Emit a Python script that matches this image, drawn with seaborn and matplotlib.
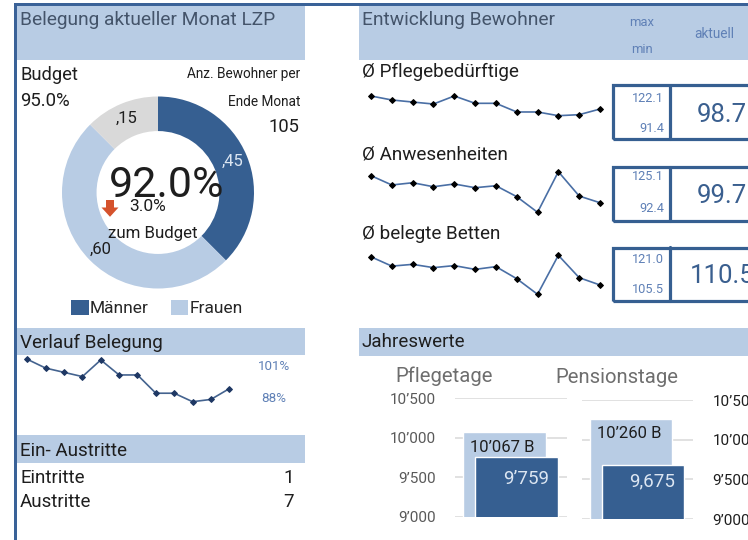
import matplotlib
matplotlib.use("Agg")
import matplotlib.pyplot as plt
from matplotlib.patches import Rectangle, Polygon
import seaborn as sns
import pandas as pd

# --- Daten ---
monate = list(range(1, 13))
belegung = [101, 98.3, 97, 95.7, 100.8, 96.2, 96.2, 90.6, 90.6, 88, 88.7, 92]
pflegebeduerftige = [122.1, 115.9, 112.7, 109.6, 122.1, 110.7, 110.7, 97.2, 97.2, 91.4, 93.0, 101.8]
anwesenheiten = [121.9, 114.4, 116.2, 113.0, 115.2, 112.2, 113.8, 105.0, 92.4, 125.1, 105.5, 100.1]
belegte_betten = [120.4, 116.7, 117.4, 116.1, 116.9, 115.4, 116.5, 111.7, 105.5, 121.0, 112.1, 109.2]

kennzahlen = ["Ø Pflegebedürftige", "Ø Anwesenheiten", "Ø belegte Betten"]
kz_max = ["122.1", "125.1", "121.0"]
kz_min = ["91.4", "92.4", "105.5"]
kz_aktuell = ["98.7", "99.7", "110.5"]

segmente = ["Männer", "Frauen", "frei"]
bewohner = [45, 60, 15]

jahres_titel = ["Pflegetage", "Pensionstage"]
jahres_budget = [10067, 10260]
jahres_ist = [9759, 9675]
jahres_ist_text = ["9’759", "9,675"]
y_ticks = [9000, 9500, 10000, 10500]

eintritte = 1
austritte = 7

# --- Farben ---
HEAD_BG = "#B8CCE4"
DARK = "#365F91"
LIGHT = "#B8CCE4"
GREY = "#D9D9D9"
SLATE = "#44546A"
BORDER = "#3A6298"
SMALLNUM = "#5F80B6"
BIGNUM = "#3A5F8F"
TXT = "#1E1E1E"

sns.set_theme(style="white")
plt.rcParams["font.family"] = ["Roboto", "DejaVu Sans"]

W, H = 748, 540
fig = plt.figure(figsize=(W / 100, H / 100), dpi=100)
fig.patch.set_facecolor("white")


def fx(x):
    return x / W


def fy(y):
    return 1 - y / H


def rect(x0, y0, x1, y1, fc="none", ec="none", lw=0, z=0):
    fig.add_artist(Rectangle((fx(x0), fy(y1)), (x1 - x0) / W, (y1 - y0) / H,
                             transform=fig.transFigure, facecolor=fc,
                             edgecolor=ec, linewidth=lw, zorder=z))


def txt(x, y, s, size, color=TXT, ha="left", va="baseline", **kw):
    fig.text(fx(x), fy(y), s, fontsize=size, color=color, ha=ha, va=va, **kw)


def axes_px(x0, y0, x1, y1):
    return fig.add_axes([fx(x0), fy(y1), (x1 - x0) / W, (y1 - y0) / H])


def spark(x0, y0, x1, y1, werte, line_col, mark_col):
    ax = axes_px(x0, y0, x1, y1)
    df = pd.DataFrame({"monat": monate, "wert": werte})
    sns.lineplot(data=df, x="monat", y="wert", ax=ax, color=line_col, lw=1.2,
                 marker="D", markersize=3.0, markerfacecolor=mark_col,
                 markeredgecolor=mark_col, clip_on=False)
    ax.set_xlim(1, 12)
    ax.set_ylim(min(werte), max(werte))
    ax.axis("off")
    return ax


# Rahmen
rect(14, 3, 748, 6, fc=BORDER)
rect(14, 3, 17, 540, fc=BORDER)

# Kopfzeilen
rect(17, 6.5, 305, 60, fc=HEAD_BG)
rect(359, 6, 748, 60, fc=HEAD_BG)
rect(17, 328, 305, 355, fc=HEAD_BG)
rect(17, 435, 305, 463, fc=HEAD_BG)
rect(359, 328, 748, 356, fc=HEAD_BG)

txt(20, 25, "Belegung aktueller Monat LZP", 13.8, SLATE)
txt(362, 25, "Entwicklung Bewohner", 13.8, SLATE)
txt(642, 26, "max", 9.4, SMALLNUM, ha="center")
txt(642, 53, "min", 9.4, SMALLNUM, ha="center")
txt(714, 37.5, "aktuell", 9.8, SMALLNUM, ha="center")
txt(20, 348, "Verlauf Belegung", 13.6)
txt(20, 456, "Ein- Austritte", 13.6)
txt(362, 347, "Jahreswerte", 13.5)

# --- Belegung aktueller Monat ---
txt(20, 80, "Budget", 13.2)
txt(20, 106, "95.0%", 13.4)
txt(300, 78, "Anz. Bewohner per", 9.8, ha="right")
txt(300, 106.5, "Ende Monat", 9.8, ha="right")
txt(299, 131.5, "105", 13.2, ha="right")

ax_d = axes_px(62, 96.5, 254, 288.5)
gesamt = sum(bewohner)
wedges, _, autotexts = ax_d.pie(
    bewohner, colors=[DARK, LIGHT, GREY], startangle=90, counterclock=False,
    wedgeprops=dict(width=0.36, linewidth=0),
    autopct=lambda p: f",{round(p * gesamt / 100)}", pctdistance=0.84,
    textprops=dict(fontsize=12, color=TXT))
autotexts[0].set_color("#DCE6F2")
ax_d.set_xlim(-1, 1)
ax_d.set_ylim(-1, 1)

txt(167, 197, "92.0%", 31, ha="center")
txt(129, 211.5, "3.0%", 12.5)
txt(153, 238, "zum Budget", 12.2, ha="center")
pfeil = [(106, 200), (114, 200), (114, 207.5), (118.5, 207.5), (110, 216.8),
         (101.5, 207.5), (106, 207.5)]
fig.add_artist(Polygon([(fx(a), fy(b)) for a, b in pfeil], closed=True,
                       transform=fig.transFigure, facecolor="#D5522C",
                       edgecolor="none"))

ax_d.legend(wedges[:2], segmente[:2], loc="center", ncol=2, frameon=False,
            bbox_to_anchor=(fx(157), fy(308)), bbox_transform=fig.transFigure,
            handlelength=1.0, handleheight=1.0, handletextpad=0.05,
            columnspacing=1.3, fontsize=12.5, borderpad=0)

# --- Verlauf Belegung ---
spark(27.3, 359.3, 229.3, 401.7, belegung, "#44638F", "#1F3864")
txt(274, 370, f"{max(belegung):.0f}%", 9.6, SMALLNUM, ha="center")
txt(274, 402, f"{min(belegung):.0f}%", 9.6, SMALLNUM, ha="center")

# --- Ein- Austritte ---
txt(20, 482.7, "Eintritte", 13.5)
txt(294, 482.7, str(eintritte), 13.5, ha="right")
txt(20, 507.3, "Austritte", 13.5)
txt(294, 507.3, str(austritte), 13.5, ha="right")

# --- Entwicklung Bewohner ---
reihen = [pflegebeduerftige, anwesenheiten, belegte_betten]
titel_y = [77.3, 159.3, 239.3]
spark_y = [(96, 115.7), (171.7, 212.3), (255.3, 294.3)]
box_y = [(85.5, 139.2), (167.5, 220.5), (247.5, 300.8)]
max_y = [101.7, 180, 263.3]
min_y = [131.7, 211.7, 293]
akt_y = [121.7, 203, 283]
for i, werte in enumerate(reihen):
    txt(362, titel_y[i], kennzahlen[i], 13.6)
    spark(371, spark_y[i][0], 600, spark_y[i][1], werte, "#4A6FA5", "black")
    b0, b1 = box_y[i]
    rect(613, b0, 765, b1, ec=DARK, lw=2.3, z=2)
    fig.add_artist(plt.Line2D([fx(670), fx(670)], [fy(b0), fy(b1)],
                              transform=fig.transFigure, color=DARK, lw=2.3))
    txt(664, max_y[i], kz_max[i], 9.2, SMALLNUM, ha="right")
    txt(664, min_y[i], kz_min[i], 9.2, SMALLNUM, ha="right")
    txt(722, akt_y[i], kz_aktuell[i], 18.5, BIGNUM, ha="center")

# --- Jahreswerte ---
def tausender(v):
    return f"{v:,}".replace(",", "’")


chart_px = [(455, 398.3, 567, 516.7), (581.7, 400, 693, 519)]
titel_pos = [(395, 381.7), (555, 383.3)]
for i in range(2):
    ax = axes_px(*chart_px[i])
    ax.bar([0], [jahres_budget[i]], width=1.0, color=LIGHT, zorder=2)
    ax.bar([0.145], [jahres_ist[i]], width=1.0, color=DARK, zorder=3)
    ax.set_xlim(-0.6, 0.75)
    ax.set_ylim(y_ticks[0], y_ticks[-1])
    ax.set_yticks(y_ticks)
    ax.set_yticklabels([tausender(t) for t in y_ticks])
    ax.set_xticks([])
    ax.grid(axis="y", color="#D9D9D9", lw=1.1)
    ax.set_axisbelow(True)
    for s in ax.spines.values():
        s.set_visible(False)
    if i == 0:
        ax.tick_params(axis="y", length=0, pad=14, labelsize=11, labelcolor="#595959")
    else:
        ax.yaxis.tick_right()
        ax.tick_params(axis="y", length=0, pad=14, labelsize=11, labelcolor=TXT)
    ax.annotate(f"{tausender(jahres_budget[i])} B", xy=(0, jahres_budget[i]),
                xytext=(-1.5, -10.5), textcoords="offset points",
                ha="center", va="center", fontsize=12, color=TXT, zorder=5)
    ax.annotate(jahres_ist_text[i], xy=(0.645, 9475), xytext=(-6.5, 0),
                textcoords="offset points", ha="right", va="center",
                fontsize=13.5, color="#DCE6F2", zorder=5)
    txt(titel_pos[i][0], titel_pos[i][1], jahres_titel[i], 14.6, "#6E6E6E")

fig.savefig("out.png", dpi=100)
